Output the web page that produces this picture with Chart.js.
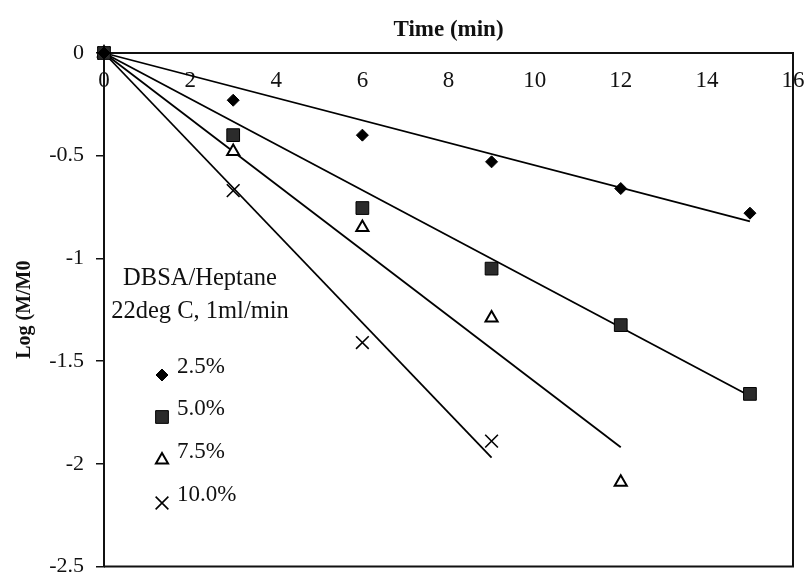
<!DOCTYPE html>
<html>
<head>
<meta charset="utf-8">
<script src="https://cdn.jsdelivr.net/npm/chart.js"></script>
<style>
  html, body { margin: 0; padding: 0; background: #fff; overflow: hidden; }
  #wrap { width: 811px; height: 577px; }
</style>
</head>
<body>
<div id="wrap"><canvas id="chart"></canvas></div>
<script>
// values
const labels = ['2.5%', '5.0%', '7.5%', '10.0%']
const times = [0, 3, 6, 9, 12, 15]
const conc25 = [0, -0.23, -0.40, -0.53, -0.66, -0.78]
const conc50 = [0, -0.40, -0.755, -1.05, -1.325, -1.66]
const conc75 = [0, -0.48, -0.85, -1.29, -2.09]
const conc100 = [0, -0.67, -1.41, -1.89]
// trend lines start at the origin, end here
const fitEndX = [15, 15, 12, 9]
const fitEndY = [-0.82, -1.67, -1.92, -1.97]
const xTicks = [0, 2, 4, 6, 8, 10, 12, 14, 16]
const yTicks = [0, -0.5, -1, -1.5, -2, -2.5]

const FONT = "'Liberation Serif', 'Times New Roman', serif"

const pts = (ys) => ys.map((y, i) => ({ x: times[i], y: y }))

const markerStyles = [
  { pointStyle: 'rectRot', pointRadius: 6, backgroundColor: '#000', borderColor: '#000', borderWidth: 1 },
  { pointStyle: 'rect', pointRadius: 9, backgroundColor: '#2b2b2b', borderColor: '#000', borderWidth: 1 },
  { pointStyle: 'triangle', pointRadius: 7, backgroundColor: '#fff', borderColor: '#000', borderWidth: 2 },
  { pointStyle: 'crossRot', pointRadius: 9, backgroundColor: '#000', borderColor: '#000', borderWidth: 1.6 }
]

const series = [conc25, conc50, conc75, conc100]

const datasets = []
series.forEach((s, i) => {
  const m = markerStyles[i]
  datasets.push({
    label: labels[i],
    data: pts(s),
    showLine: false,
    pointStyle: m.pointStyle,
    pointRadius: m.pointRadius,
    pointBackgroundColor: m.backgroundColor,
    pointBorderColor: m.borderColor,
    pointBorderWidth: m.borderWidth,
    clip: false
  })
})
fitEndX.forEach((x, i) => {
  datasets.push({
    label: 'fit ' + labels[i],
    data: [{ x: 0, y: 0 }, { x: x, y: fitEndY[i] }],
    showLine: true,
    borderColor: '#000',
    borderWidth: 1.8,
    pointRadius: 0,
    clip: false
  })
})

// frame on the right and bottom + the note / legend block
const extras = {
  id: 'extras',
  afterDatasetsDraw(chart) {
    const { ctx, chartArea: a } = chart
    ctx.save()
    ctx.strokeStyle = '#111'
    ctx.lineWidth = 2
    ctx.beginPath()
    ctx.moveTo(a.left, a.bottom)
    ctx.lineTo(a.right, a.bottom)
    ctx.lineTo(a.right, a.top)
    ctx.stroke()

    ctx.fillStyle = '#111'
    ctx.font = '24.5px ' + FONT
    ctx.textAlign = 'center'
    ctx.textBaseline = 'middle'
    ctx.fillText('DBSA/Heptane', 200, 279)
    ctx.fillText('22deg C, 1ml/min', 200, 312)

    const rowY = [367, 409, 452, 495]
    ctx.font = '23px ' + FONT
    ctx.textAlign = 'left'
    labels.forEach((lab, i) => {
      const m = markerStyles[i]
      ctx.fillStyle = m.backgroundColor
      ctx.strokeStyle = m.borderColor
      ctx.lineWidth = m.borderWidth
      Chart.helpers.drawPoint(ctx, { pointStyle: m.pointStyle, radius: m.pointRadius, borderWidth: m.borderWidth, rotation: 0 }, 162, rowY[i] + 8)
      ctx.fillStyle = '#111'
      ctx.fillText(lab, 177, rowY[i])
    })
    ctx.restore()
  }
}

new Chart(document.getElementById('chart'), {
  type: 'scatter',
  data: { datasets },
  options: {
    responsive: true,
    maintainAspectRatio: false,
    animation: false,
    layout: { padding: { top: 0, left: 0, right: 18, bottom: 0 } },
    plugins: { legend: { display: false }, tooltip: { enabled: false } },
    scales: {
      x: {
        type: 'linear',
        position: 'top',
        min: 0,
        max: 16,
        afterBuildTicks: (s) => { s.ticks = xTicks.map(v => ({ value: v })) },
        afterFit: (s) => { s.height = 53; s.paddingLeft = 0; s.paddingRight = 0 },
        grid: { display: false },
        border: { display: true, color: '#111', width: 2 },
        ticks: { color: '#111', mirror: true, padding: 14, maxRotation: 0, font: { family: FONT, size: 23 }, callback: (v) => String(v) },
        title: { display: true, text: 'Time (min)', color: '#111', padding: { top: 16, bottom: 0 }, font: { family: FONT, size: 23, weight: 'bold' } }
      },
      y: {
        type: 'linear',
        position: 'left',
        min: -2.5,
        max: 0,
        afterBuildTicks: (s) => { s.ticks = yTicks.map(v => ({ value: v })) },
        afterFit: (s) => { s.width = 104; s.paddingTop = 0; s.paddingBottom = 0 },
        grid: { display: true, drawOnChartArea: false, drawTicks: true, tickLength: 8, color: '#111', lineWidth: 1.5 },
        border: { display: true, color: '#111', width: 2 },
        ticks: { color: '#111', padding: 12, font: { family: FONT, size: 22 }, callback: (v) => String(Math.round(v * 10) / 10) },
        title: { display: true, text: 'Log (M/M0', color: '#111', padding: { top: 13, bottom: 0 }, font: { family: FONT, size: 20, weight: 'bold' } }
      }
    }
  },
  plugins: [extras]
})
</script>
</body>
</html>
